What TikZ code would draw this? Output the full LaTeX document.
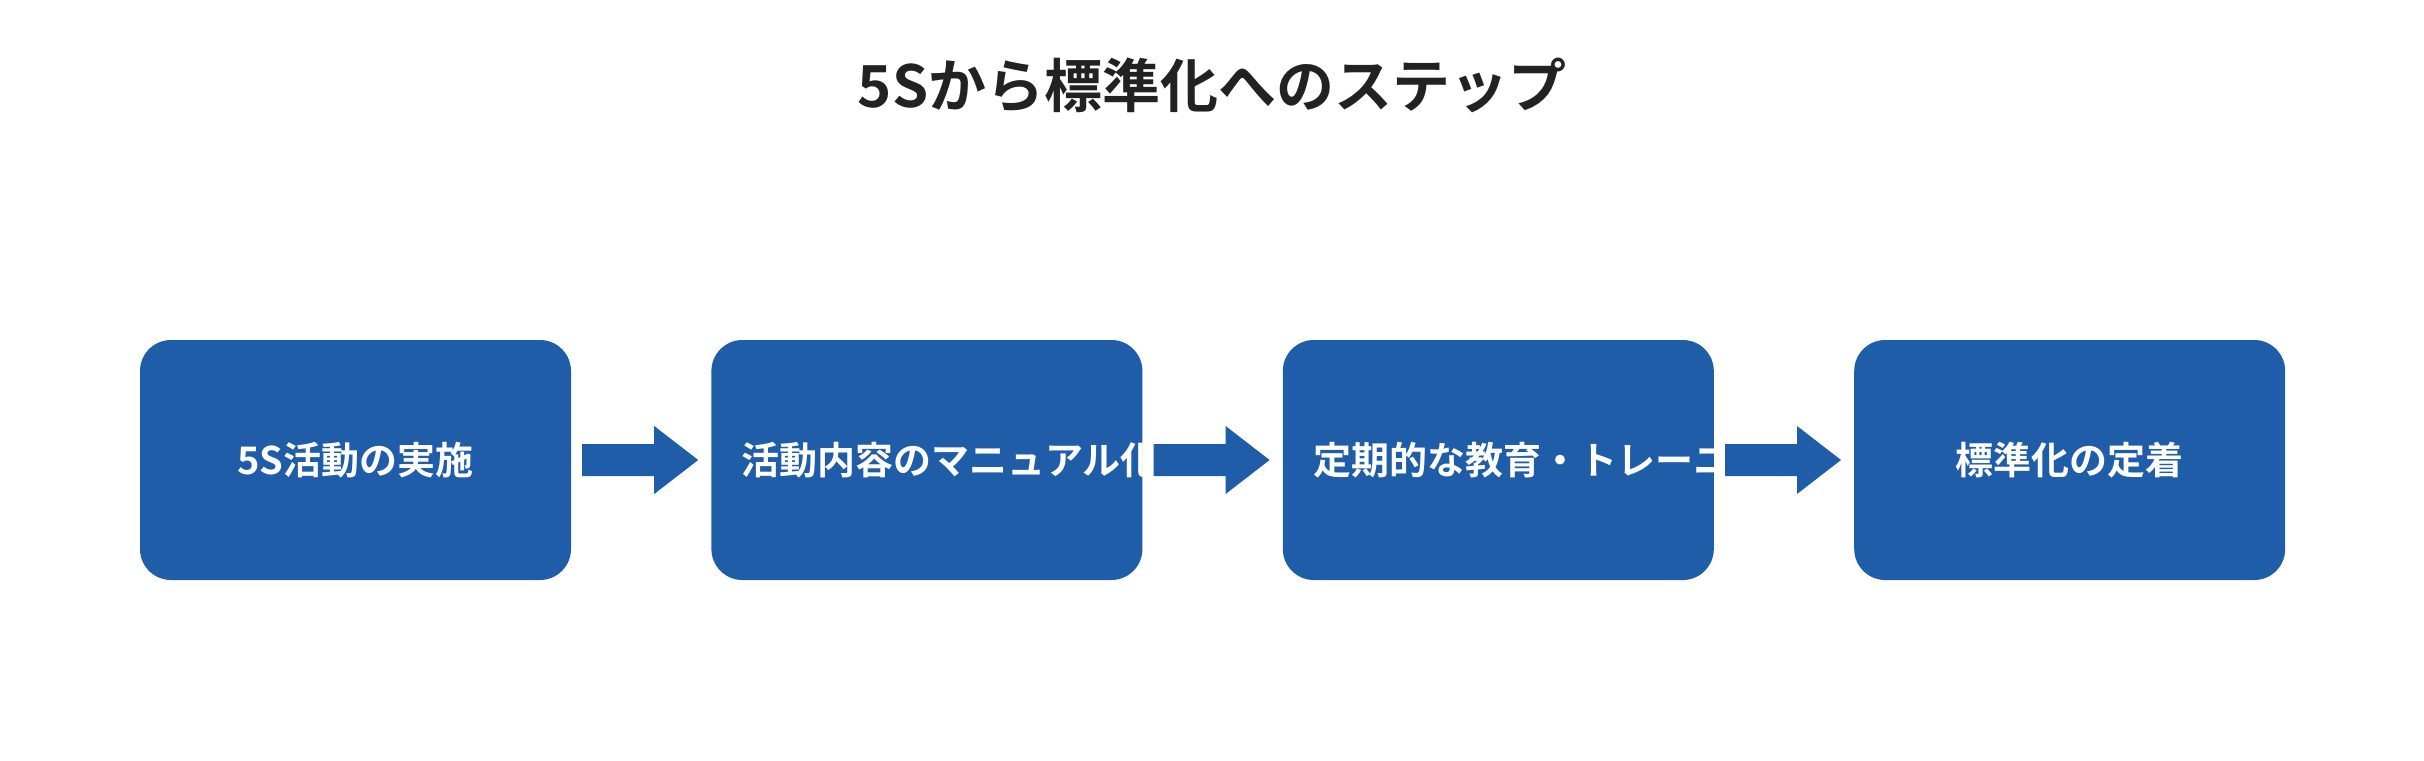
\documentclass[tikz,border=0pt]{standalone}
\usepackage{fontspec}
\newfontfamily\jpfont{Noto Sans CJK JP}[BoldFont={Noto Sans CJK JP Bold}]
\usetikzlibrary{positioning}
\definecolor{stepblue}{RGB}{31,93,168}
\definecolor{titlegray}{RGB}{34,34,34}
\tikzset{
  stepbox/.style={draw=none,fill=stepblue,rounded corners=31pt,minimum width=431pt,minimum height=240pt,
    text width=370pt,align=center,text=white,font=\jpfont\bfseries\fontsize{38}{59}\selectfont},
  flow/.style={fill=stepblue,draw=none}
}
\begin{document}
\begin{tikzpicture}[x=1pt,y=-1pt]
\useasboundingbox (0,0) rectangle (2424,760);

% Title
\node (title) at (1212,85) [font=\jpfont\bfseries\fontsize{58}{70}\selectfont,text=titlegray] {5Sから標準化へのステップ};

% Steps
\node (s1) [stepbox] at (355.5,460) {5S活動の実施};
\node (s2) [stepbox,right=140pt of s1] {活動内容のマニュアル化};
\node (s3) [stepbox,right=140pt of s2] {定期的な教育・トレーニング};
\node (s4) [stepbox,right=140pt of s3] {標準化の定着};

% Block arrows
\foreach \a/\b in {s1/s2,s2/s3,s3/s4}{
  \path (\a.east) ++(11pt,0) coordinate (\a-t);
  \fill[flow] (\a-t) ++(0,-16) -- ++(72,0) -- ++(0,-18) -- ++(44,34) -- ++(-44,34) -- ++(0,-18) -- ++(-72,0) -- cycle;
}
\end{tikzpicture}
\end{document}
